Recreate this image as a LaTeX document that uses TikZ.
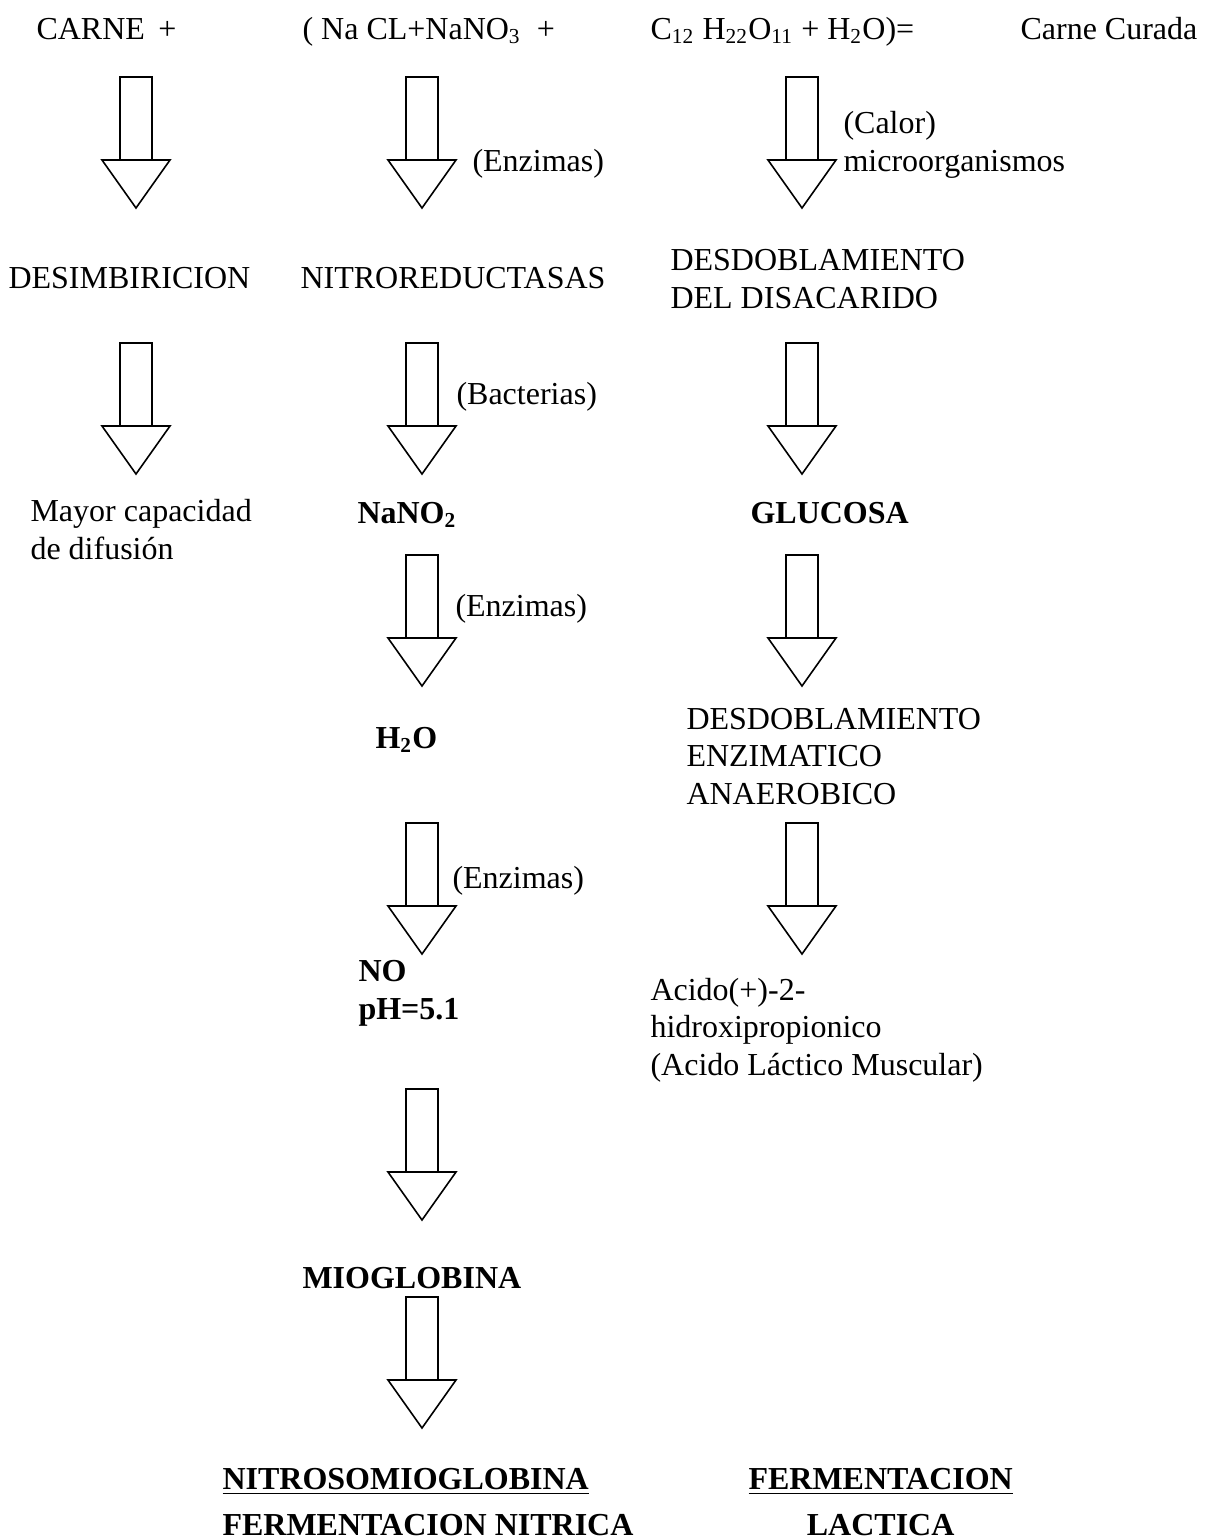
\documentclass[tikz,border=0pt]{standalone}
\usepackage{fontspec}
\setmainfont{Liberation Serif}
\usepackage{tikz}

% flecha de bloque: x del centro, y del borde superior
\newcommand{\flecha}[2]{%
	\draw[thick] (#1-16,#2) rectangle (#1+16,#2+83);
	\draw[semithick] (#1-34,#2+83) -- (#1+34,#2+83) -- (#1,#2+131) -- cycle;
}

\begin{document}
\begin{tikzpicture}[x=0.375pt, y=-0.375pt,
		texto/.style={anchor=base west, inner sep=0pt, align=left, font=\fontsize{12}{14}\selectfont},
		negrita/.style={texto, font=\fontsize{12}{14}\selectfont\bfseries}]
	
	\useasboundingbox (0,0) rectangle (1210,1539);
	
	% Ecuacion
	\node[texto] (carne) at (36,39) {CARNE \,+};
	\node[texto] (sales) at (302,39) {( Na CL+NaNO\textsubscript{3} \ +};
	\node[texto] (azucar) at (650,39) {C\textsubscript{12} H\textsubscript{22}O\textsubscript{11} + H\textsubscript{2}O)=};
	\node[texto] (curada) at (1020,39) {Carne Curada};
	
	% Carne
	\flecha{136}{77}
	\node[texto] (desimb) at (8,288) {DESIMBIRICION};
	\flecha{136}{343}
	\node[texto] (difusion) at (30,559) {Mayor capacidad\\de difusión};
	
	% Nitrato
	\flecha{422}{77}
	\node[texto] (enz1) at (472,171) {(Enzimas)};
	\node[texto] (nitrored) at (300,288) {NITROREDUCTASAS};
	\flecha{422}{343}
	\node[texto] (bact) at (456,404) {(Bacterias)};
	\node[negrita] (nitrito) at (357,523) {NaNO\textsubscript{2}};
	\flecha{422}{555}
	\node[texto] (enz2) at (455,616) {(Enzimas)};
	\node[negrita] (agua) at (375,748) {H\textsubscript{2}O};
	\flecha{422}{823}
	\node[texto] (enz3) at (452,888) {(Enzimas)};
	\node[negrita] (no) at (358,1019) {NO\\pH=5.1};
	\flecha{422}{1089}
	\node[negrita] (miog) at (302,1288) {MIOGLOBINA};
	\flecha{422}{1297}
	\node[negrita] (nitrica) at (222,1535) {\underline{NITROSOMIOGLOBINA}\\[3pt]FERMENTACION NITRICA};
	
	% Azucar
	\flecha{802}{77}
	\node[texto] (calor) at (843,171) {(Calor)\\microorganismos};
	\node[texto] (disac) at (670,308) {DESDOBLAMIENTO\\DEL DISACARIDO};
	\flecha{802}{343}
	\node[negrita] (glucosa) at (750,523) {GLUCOSA};
	\flecha{802}{555}
	\node[texto] (anaer) at (686,804) {DESDOBLAMIENTO\\ENZIMATICO\\ANAEROBICO};
	\flecha{802}{823}
	\node[texto] (acido) at (650,1075) {Acido(+)-2-\\hidroxipropionico\\(Acido Láctico Muscular)};
	\node[negrita, align=center] (lactica) at (748,1535) {\underline{FERMENTACION}\\[3pt]LACTICA};
	
\end{tikzpicture}
\end{document}
